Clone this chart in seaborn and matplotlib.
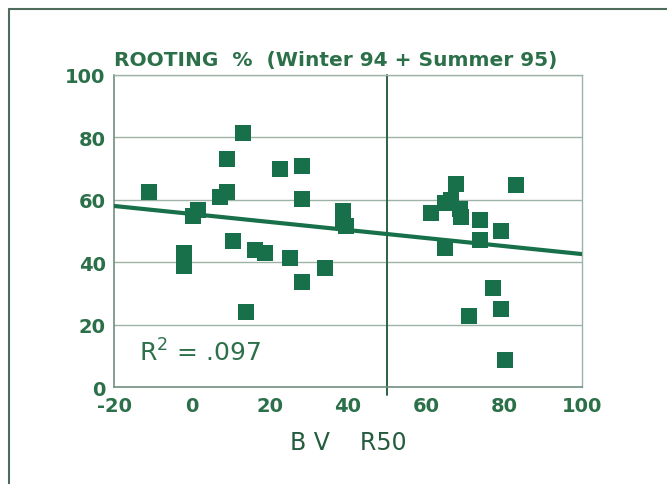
import numpy as np
import pandas as pd
import matplotlib
matplotlib.use("Agg")
import matplotlib.pyplot as plt
import seaborn as sns
from matplotlib.lines import Line2D

# Breeding value (R50) against rooting percentage
bv_r50 = [-11.0, -2.0, -2.0, 0.2, 1.6, 7.1, 9.0, 9.0, 10.4, 13.0, 13.9, 16.1,
          18.8, 22.6, 25.1, 28.1, 28.1, 28.1, 34.1, 38.8, 38.8, 39.6,
          61.3, 64.8, 64.8, 66.5, 67.7, 68.6, 69.1, 70.9, 73.8, 73.8,
          77.3, 79.2, 79.2, 80.3, 83.2]
rooting = [62.4, 42.9, 38.8, 54.7, 56.7, 60.9, 62.4, 73.2, 46.8, 81.3, 24.1, 44.0,
           42.9, 70.0, 41.3, 70.8, 60.3, 33.5, 38.1, 56.5, 53.6, 51.5,
           55.8, 44.7, 59.1, 59.9, 65.0, 56.9, 54.5, 22.7, 53.4, 47.0,
           31.7, 50.0, 24.9, 8.8, 64.6]

x_ticks = [-20, 0, 20, 40, 60, 80, 100]
y_ticks = [0, 20, 40, 60, 80, 100]
split_x = 50
r2_label = "R$^2$ = .097"

df = pd.DataFrame({"bv": bv_r50, "rooting": rooting})

GREEN = "#18704a"
TEXT = "#2c7049"
GRID = "#9db3a8"

sns.set_theme(style="white")
plt.rcParams["font.family"] = ["DejaVu Sans"]
plt.rcParams["mathtext.fontset"] = "dejavusans"

fig = plt.figure(figsize=(6.67, 4.85), dpi=100)
ax = fig.add_axes([114 / 667, 1 - 388 / 485, (582 - 114) / 667, (388 - 76) / 485])
ax.set_xlim(x_ticks[0], x_ticks[-1])
ax.set_ylim(y_ticks[0], y_ticks[-1])

for yv in y_ticks[1:]:
    ax.axhline(yv, color=GRID, lw=1.0, zorder=0)

# scatter plus least-squares line spanning the full x range
sns.regplot(data=df, x="bv", y="rooting", ax=ax, ci=None, truncate=False,
            marker="s",
            scatter_kws=dict(s=128, color=GREEN, linewidths=0, alpha=1, zorder=3),
            line_kws=dict(color=GREEN, lw=3.0, zorder=4))

ax.set_xlim(x_ticks[0], x_ticks[-1])
ax.set_ylim(y_ticks[0], y_ticks[-1])

# vertical divider at 50, extending a little below the x axis
ax.plot([split_x, split_x], [-2.5, 100], color="#2d6048", lw=1.4,
        clip_on=False, zorder=2)

for s in ["top", "right"]:
    ax.spines[s].set_color(GRID)
    ax.spines[s].set_linewidth(1.0)
for s in ["left", "bottom"]:
    ax.spines[s].set_color("#6f8f80")
    ax.spines[s].set_linewidth(1.2)

ax.set_xticks(x_ticks)
ax.set_yticks(y_ticks)
ax.set_xticklabels([str(v) for v in x_ticks])
ax.set_yticklabels([str(v) for v in y_ticks])
ax.tick_params(axis="x", direction="inout", length=9, width=1.2, color="#6f8f80",
               labelsize=14, labelcolor=TEXT, pad=2)
ax.tick_params(axis="y", length=0, labelsize=14, labelcolor=TEXT, pad=6)
for lab in ax.get_xticklabels() + ax.get_yticklabels():
    lab.set_fontweight("bold")

ax.set_xlabel("B V    R50", fontsize=17, color="#245c3e", labelpad=11)
ax.set_ylabel("")

ax.text(-13.5, 8.5, r2_label, fontsize=18, color=TEXT, ha="left", va="baseline")

fig.text(114 / 667, 1 - 66 / 485, "ROOTING  %  (Winter 94 + Summer 95)",
         fontsize=14.5, fontweight="bold", color=TEXT, ha="left", va="baseline")

# outer frame (top and left edges)
fig.add_artist(Line2D([9 / 667, 1.0], [1 - 10 / 485, 1 - 10 / 485],
                      color="#4f6b5c", lw=1.5, transform=fig.transFigure))
fig.add_artist(Line2D([9 / 667, 9 / 667], [0.0, 1 - 10 / 485],
                      color="#4f6b5c", lw=1.5, transform=fig.transFigure))

fig.savefig("out.png", dpi=100, facecolor="white")
